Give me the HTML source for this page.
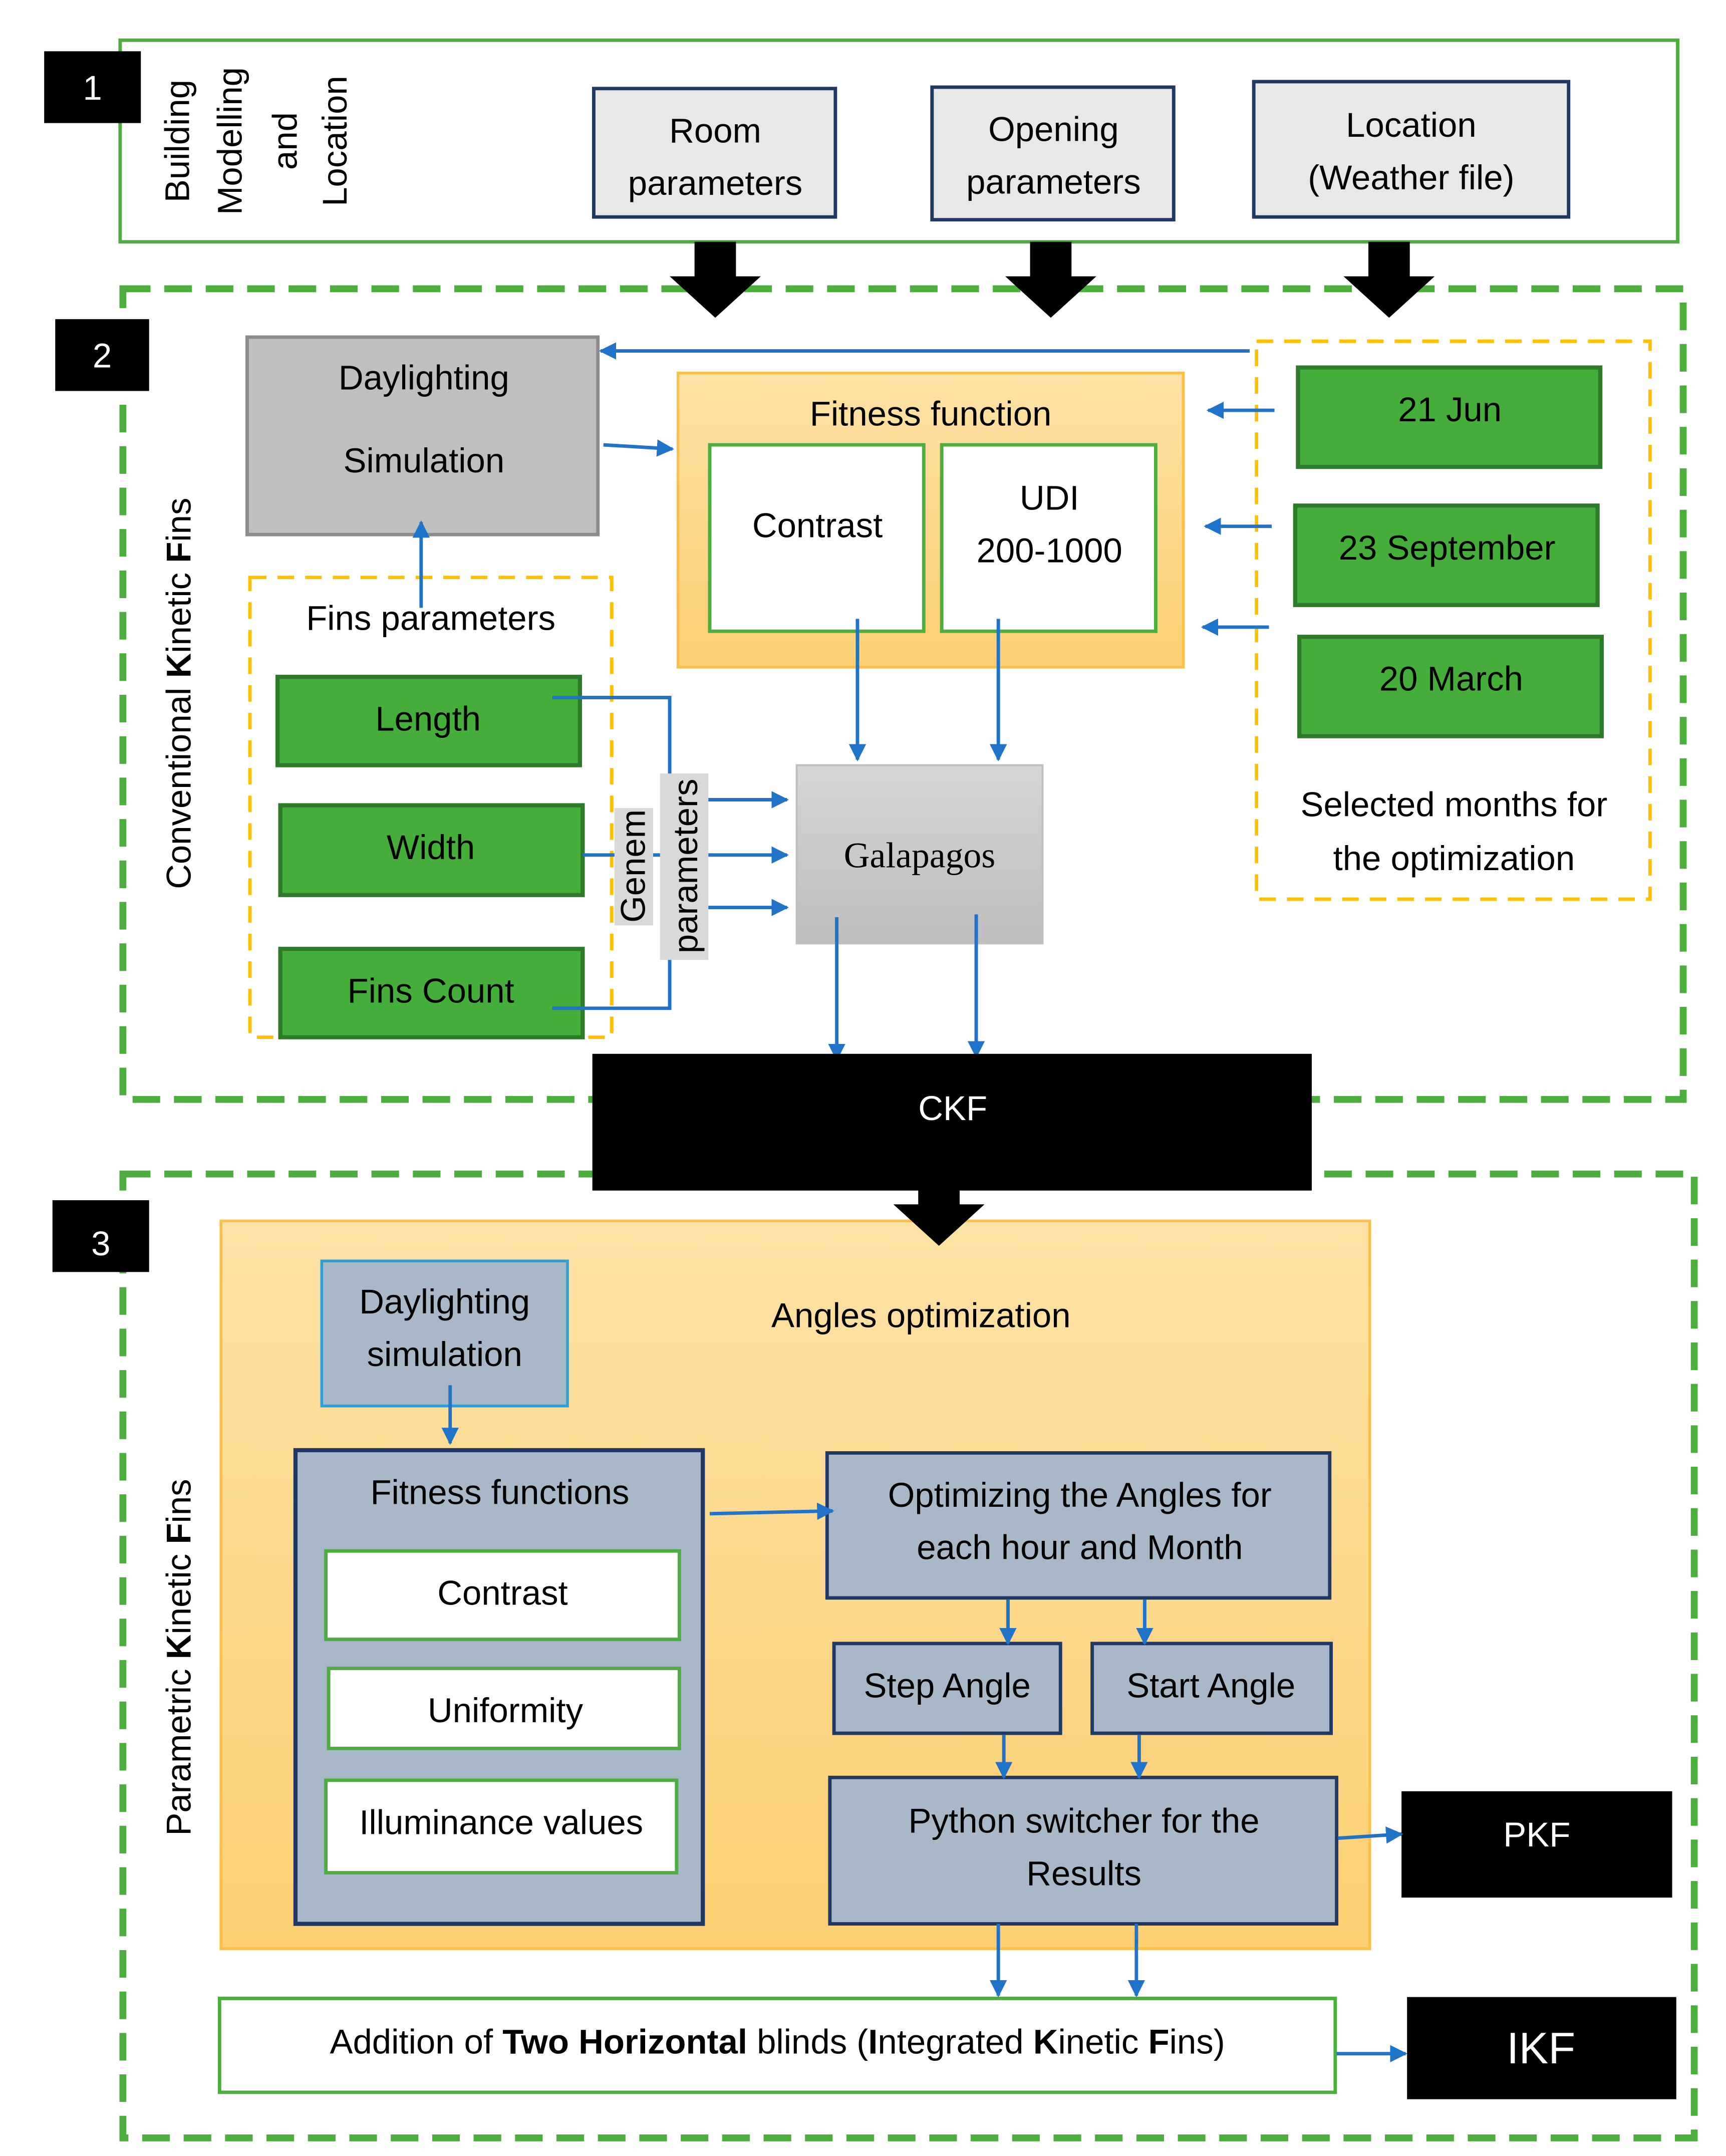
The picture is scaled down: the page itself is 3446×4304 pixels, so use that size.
<!DOCTYPE html>
<html><head><meta charset="utf-8"><style>
html,body{margin:0;padding:0;background:#fff}
svg{display:block}
text{font-family:"Liberation Sans",sans-serif;font-size:25px;fill:#000}
</style></head><body>
<svg width="3446" height="4304" viewBox="0 0 1250 1561" xmlns="http://www.w3.org/2000/svg">
<defs>
<marker id="a" viewBox="0 0 10 10" refX="9" refY="5" markerWidth="5" markerHeight="5" orient="auto"><path d="M0,0L10,5L0,10z" fill="#1f73c8"/></marker>
<linearGradient id="og" x1="0" y1="0" x2="0" y2="1"><stop offset="0" stop-color="#fde2a6"/><stop offset="1" stop-color="#fccf72"/></linearGradient>
<linearGradient id="gg" x1="0" y1="0" x2="0" y2="1"><stop offset="0" stop-color="#d6d6d6"/><stop offset="1" stop-color="#bdbdbd"/></linearGradient>
</defs>
<!-- section frames first -->
<rect x="87" y="29" width="1128" height="146" fill="none" stroke="#4cae3c" stroke-width="2.5"/>
<rect x="89" y="209" width="1130" height="587" fill="none" stroke="#4cae3c" stroke-width="5" stroke-dasharray="20 10"/>
<rect x="89" y="850" width="1138" height="698" fill="none" stroke="#4cae3c" stroke-width="5" stroke-dasharray="20 10"/>
<!-- Section 1 -->
<rect x="32" y="37" width="70" height="52" fill="#000"/>
<text x="67" y="72" text-anchor="middle" style="fill:#fff">1</text>
<g transform="translate(185,102) rotate(-90)">
<text x="0" y="-48" text-anchor="middle">Building</text>
<text x="0" y="-10" text-anchor="middle">Modelling</text>
<text x="0" y="30" text-anchor="middle">and</text>
<text x="0" y="66" text-anchor="middle">Location</text>
</g>
<rect x="430" y="64" width="175" height="93" fill="#e8e8e8" stroke="#1f3864" stroke-width="2.5"/>
<text x="518" y="103" text-anchor="middle">Room</text><text x="518" y="141" text-anchor="middle">parameters</text>
<rect x="675" y="63" width="175" height="96" fill="#e8e8e8" stroke="#1f3864" stroke-width="2.5"/>
<text x="763" y="102" text-anchor="middle">Opening</text><text x="763" y="140" text-anchor="middle">parameters</text>
<rect x="908" y="59" width="228" height="98" fill="#e8e8e8" stroke="#1f3864" stroke-width="2.5"/>
<text x="1022" y="99" text-anchor="middle">Location</text><text x="1022" y="137" text-anchor="middle">(Weather file)</text>
<g fill="#000">
<path d="M503,175h30v25h18l-33,30l-33,-30h18z"/>
<path d="M746,175h30v25h18l-33,30l-33,-30h18z"/>
<path d="M991,175h30v25h18l-33,30l-33,-30h18z"/>
</g>
<!-- Section 2 -->
<rect x="40" y="231" width="68" height="52" fill="#000"/>
<text x="74" y="266" text-anchor="middle" style="fill:#fff">2</text>
<text transform="translate(138,502) rotate(-90)" text-anchor="middle">Conventional <tspan font-weight="bold">K</tspan>inetic <tspan font-weight="bold">F</tspan>ins</text>
<rect x="179" y="244" width="254" height="143" fill="#bfbfbf" stroke="#8c8c8c" stroke-width="2.5"/>
<text x="307" y="282" text-anchor="middle">Daylighting</text><text x="307" y="342" text-anchor="middle">Simulation</text>
<rect x="491" y="270" width="366" height="213" fill="url(#og)" stroke="#f9c04a" stroke-width="2"/>
<text x="674" y="308" text-anchor="middle">Fitness function</text>
<rect x="514" y="322" width="155" height="135" fill="#fff" stroke="#4cae3c" stroke-width="2.5"/>
<text x="592" y="389" text-anchor="middle">Contrast</text>
<rect x="682" y="322" width="155" height="135" fill="#fff" stroke="#4cae3c" stroke-width="2.5"/>
<text x="760" y="369" text-anchor="middle">UDI</text><text x="760" y="407" text-anchor="middle">200-1000</text>
<rect x="910" y="247" width="285" height="404" fill="none" stroke="#ffc000" stroke-width="2.5" stroke-dasharray="12 8"/>
<rect x="940" y="266" width="219" height="72" fill="#45ae3a" stroke="#2d7a2a" stroke-width="3"/>
<text x="1050" y="305" text-anchor="middle">21 Jun</text>
<rect x="938" y="366" width="219" height="72" fill="#45ae3a" stroke="#2d7a2a" stroke-width="3"/>
<text x="1048" y="405" text-anchor="middle">23 September</text>
<rect x="941" y="461" width="219" height="72" fill="#45ae3a" stroke="#2d7a2a" stroke-width="3"/>
<text x="1051" y="500" text-anchor="middle">20 March</text>
<text x="1053" y="591" text-anchor="middle">Selected months for</text>
<text x="1053" y="630" text-anchor="middle">the optimization</text>
<rect x="181" y="418" width="262" height="333" fill="none" stroke="#ffc000" stroke-width="2.5" stroke-dasharray="12 8"/>
<text x="312" y="456" text-anchor="middle">Fins parameters</text>
<rect x="201" y="490" width="219" height="64" fill="#45ae3a" stroke="#2d7a2a" stroke-width="3"/>
<text x="310" y="529" text-anchor="middle">Length</text>
<rect x="203" y="583" width="219" height="65" fill="#45ae3a" stroke="#2d7a2a" stroke-width="3"/>
<text x="312" y="622" text-anchor="middle">Width</text>
<rect x="203" y="687" width="219" height="64" fill="#45ae3a" stroke="#2d7a2a" stroke-width="3"/>
<text x="312" y="726" text-anchor="middle">Fins Count</text>
<g stroke="#1f73c8" stroke-width="2.5" fill="none">
<path d="M400,505H485V730H400"/>
<path d="M422,619H488"/>
</g>
<rect x="445" y="585" width="28" height="85" fill="#d9d9d9"/>
<text transform="translate(467,627) rotate(-90)" text-anchor="middle">Genem</text>
<rect x="478" y="560" width="35" height="135" fill="#d9d9d9"/>
<text transform="translate(505,627) rotate(-90)" text-anchor="middle">parameters</text>
<rect x="577" y="554" width="178" height="129" fill="url(#gg)" stroke="#bfbfbf" stroke-width="1.5"/>
<text x="666" y="628" text-anchor="middle" style="font-family:'Liberation Serif',serif;font-size:26px">Galapagos</text>
<g stroke="#1f73c8" stroke-width="2.5" fill="none" marker-end="url(#a)">
<path d="M905,254H435"/>
<path d="M437,322L487,325"/>
<path d="M305,440V378"/>
<path d="M923,297H875"/>
<path d="M921,381H873"/>
<path d="M919,454H871"/>
<path d="M513,579H570"/>
<path d="M513,619H570"/>
<path d="M513,657H570"/>
<path d="M621,448V550"/>
<path d="M723,448V550"/>
<path d="M606,664V767"/>
<path d="M707,662V765"/>
</g>
<!-- Section 3 -->
<rect x="38" y="869" width="70" height="52" fill="#000"/>
<text x="73" y="909" text-anchor="middle" style="fill:#fff">3</text>
<text transform="translate(138,1200) rotate(-90)" text-anchor="middle">Parametric <tspan font-weight="bold">K</tspan>inetic <tspan font-weight="bold">F</tspan>ins</text>
<rect x="160" y="884" width="832" height="527" fill="url(#og)" stroke="#f9c04a" stroke-width="2"/>
<rect x="429" y="763" width="521" height="99" fill="#000"/>
<text x="690" y="811" text-anchor="middle" style="fill:#fff">CKF</text>
<path d="M665,860h30v12h18l-33,30l-33,-30h18z" fill="#000"/>
<text x="667" y="961" text-anchor="middle">Angles optimization</text>
<rect x="233" y="913" width="178" height="105" fill="#a9b8c9" stroke="#2e9fd6" stroke-width="2"/>
<text x="322" y="951" text-anchor="middle">Daylighting</text><text x="322" y="989" text-anchor="middle">simulation</text>
<rect x="214" y="1050" width="295" height="343" fill="#a9b8c9" stroke="#1f3864" stroke-width="3"/>
<text x="362" y="1089" text-anchor="middle">Fitness functions</text>
<rect x="236" y="1123" width="256" height="64" fill="#fff" stroke="#4cae3c" stroke-width="2.5"/>
<text x="364" y="1162" text-anchor="middle">Contrast</text>
<rect x="238" y="1208" width="254" height="58" fill="#fff" stroke="#4cae3c" stroke-width="2.5"/>
<text x="366" y="1247" text-anchor="middle">Uniformity</text>
<rect x="236" y="1289" width="254" height="67" fill="#fff" stroke="#4cae3c" stroke-width="2.5"/>
<text x="363" y="1328" text-anchor="middle">Illuminance values</text>
<rect x="599" y="1052" width="364" height="105" fill="#a9b8c9" stroke="#1f3864" stroke-width="2.5"/>
<text x="782" y="1091" text-anchor="middle">Optimizing the Angles for</text>
<text x="782" y="1129" text-anchor="middle">each hour and Month</text>
<rect x="604" y="1190" width="164" height="65" fill="#a9b8c9" stroke="#1f3864" stroke-width="2.5"/>
<text x="686" y="1229" text-anchor="middle">Step Angle</text>
<rect x="791" y="1190" width="173" height="65" fill="#a9b8c9" stroke="#1f3864" stroke-width="2.5"/>
<text x="877" y="1229" text-anchor="middle">Start Angle</text>
<rect x="601" y="1287" width="367" height="106" fill="#a9b8c9" stroke="#1f3864" stroke-width="2.5"/>
<text x="785" y="1327" text-anchor="middle">Python switcher for the</text>
<text x="785" y="1365" text-anchor="middle">Results</text>
<rect x="1015" y="1297" width="196" height="77" fill="#000"/>
<text x="1113" y="1337" text-anchor="middle" style="fill:#fff">PKF</text>
<rect x="159" y="1447" width="808" height="68" fill="#fff" stroke="#4cae3c" stroke-width="2.5"/>
<text x="563" y="1487" text-anchor="middle">Addition of <tspan font-weight="bold">Two Horizontal</tspan> blinds (<tspan font-weight="bold">I</tspan>ntegrated <tspan font-weight="bold">K</tspan>inetic <tspan font-weight="bold">F</tspan>ins)</text>
<rect x="1019" y="1446" width="195" height="74" fill="#000"/>
<text x="1116" y="1494" text-anchor="middle" style="fill:#fff;font-size:32px">IKF</text>
<g stroke="#1f73c8" stroke-width="2.5" fill="none" marker-end="url(#a)">
<path d="M326,1003V1045"/>
<path d="M514,1096L603,1094"/>
<path d="M730,1158V1190"/>
<path d="M829,1158V1190"/>
<path d="M727,1256V1287"/>
<path d="M825,1256V1287"/>
<path d="M969,1331L1015,1328"/>
<path d="M723,1393V1445"/>
<path d="M823,1393V1445"/>
<path d="M968,1487H1018"/>
</g>
</svg>
</body></html>
